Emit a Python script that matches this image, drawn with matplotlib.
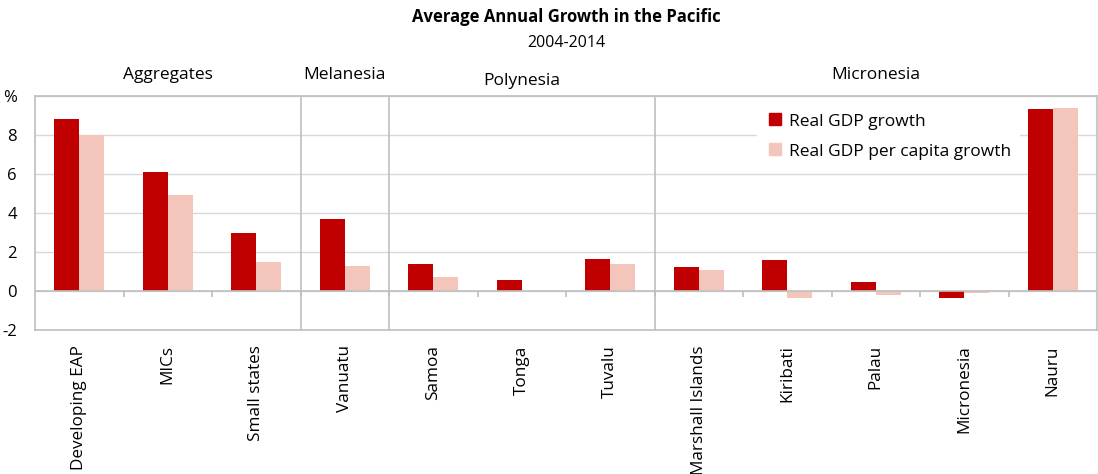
import numpy as np
import matplotlib.pyplot as plt
from matplotlib.lines import Line2D

plt.rcParams['font.family'] = ['Open Sans', 'DejaVu Sans']

## Data
countries = ['Developing EAP', 'MICs', 'Small states', 'Vanuatu', 'Samoa',
             'Tonga', 'Tuvalu', 'Marshall Islands', 'Kiribati', 'Palau',
             'Micronesia', 'Nauru']
gdp_growth = [8.8, 6.1, 3.0, 3.7, 1.4, 0.55, 1.65, 1.25, 1.6, 0.45, -0.35, 9.35]
gdp_pc_growth = [8.0, 4.9, 1.5, 1.3, 0.7, 0.0, 1.4, 1.1, -0.35, -0.2, -0.12, 9.4]
# group name, first and last category index
groups = [('Aggregates', 0, 2), ('Melanesia', 3, 3),
          ('Polynesia', 4, 6), ('Micronesia', 7, 11)]
yticks = [-2, 0, 2, 4, 6, 8, 10]
ytick_labels = ['-2', '0', '2', '4', '6', '8', '%']

red = '#c00000'
pink = '#f4c5bb'
grey = '#bfbfbf'

## Figure
fig = plt.figure(figsize=(10.98, 4.74), dpi=100)
ax = fig.add_axes([35/1098, 1 - 330/474, 1062/1098, 234/474])

x = np.arange(len(countries))
w = 0.283
ax.bar(x - w/2, gdp_growth, w, color=red, zorder=3)
ax.bar(x + w/2, gdp_pc_growth, w, color=pink, zorder=3)

ax.set_xlim(-0.5, len(countries) - 0.5)
ax.set_ylim(-2, 10)
ax.set_yticks(yticks)
ax.set_yticklabels(ytick_labels, fontsize=12)
ax.grid(axis='y', color='#d9d9d9', lw=1, zorder=0)
ax.tick_params(axis='y', length=0, pad=13)

ax.set_xticks(x)
ax.set_xticklabels(countries, rotation=90, fontsize=12.3, va='top')
ax.tick_params(axis='x', length=0, pad=11)

for s in ax.spines.values():
    s.set_color(grey)
    s.set_linewidth(1.2)

# zero line with small category ticks
ax.axhline(0, color=grey, lw=1.2, zorder=4)
bounds = np.arange(len(countries) + 1) - 0.5
ax.vlines(bounds[1:-1], -0.3, 0, color=grey, lw=1.2, zorder=4)

# group separators and group names
for name, i0, i1 in groups:
    if i0 > 0:
        ax.axvline(i0 - 0.5, color=grey, lw=1.2, zorder=4)
    dy = 0.065 if name == 'Polynesia' else 0.09
    ax.text((i0 + i1) / 2, 1 + dy, name, transform=ax.get_xaxis_transform(),
            ha='center', va='center', fontsize=12.5)

handles = [Line2D([], [], ls='', marker='s', ms=9, color=red),
           Line2D([], [], ls='', marker='s', ms=9, color=pink)]
leg = ax.legend(handles, ['Real GDP growth', 'Real GDP per capita growth'],
                loc='upper left', bbox_to_anchor=(0.672, 1.0), fontsize=12.5,
                frameon=True, fancybox=False, edgecolor='white',
                framealpha=1, handletextpad=0.3, handlelength=1.0,
                labelspacing=0.8, borderpad=0.5)
leg.set_zorder(5)

fig.text(0.516, 1 - 17/474, 'Average Annual Growth in the Pacific',
         ha='center', va='center', fontsize=12, fontweight='bold')
fig.text(0.516, 1 - 43/474, '2004-2014', ha='center', va='center',
         fontsize=11.5)

fig.savefig('out.png', dpi=100)
